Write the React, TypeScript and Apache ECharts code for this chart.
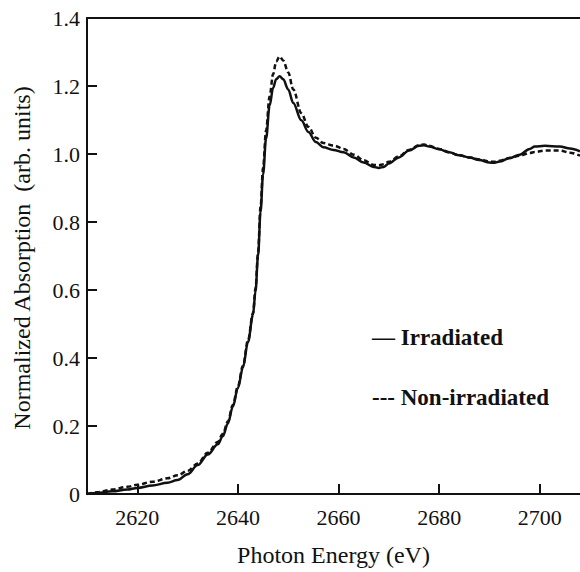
import React, { useEffect, useRef } from "react";
import * as echarts from "echarts";

const energy = [
  2610, 2612, 2615, 2618, 2620, 2623, 2626, 2628, 2630, 2632, 2634, 2636, 2637, 2638, 2639, 2640,
  2641, 2642, 2643, 2643.5, 2644, 2644.5, 2645, 2645.6, 2646.3, 2647, 2647.6, 2648.3, 2649, 2650,
  2651, 2652.6, 2654, 2655.5, 2657, 2659, 2661, 2663, 2665, 2667, 2668, 2669, 2670, 2672, 2674,
  2676, 2677, 2678, 2680, 2682, 2684, 2686, 2688, 2690, 2691, 2692, 2694, 2696, 2698, 2699, 2701,
  2704, 2706, 2708,
];

const irradiated = [
  0.0, 0.003, 0.008, 0.013, 0.018, 0.025, 0.033, 0.041, 0.058, 0.085, 0.116, 0.146, 0.17, 0.207,
  0.257, 0.312, 0.372, 0.447, 0.527, 0.597, 0.7, 0.83, 0.94, 1.046, 1.142, 1.195, 1.22, 1.229,
  1.22, 1.19, 1.15, 1.099, 1.065, 1.035, 1.02, 1.012, 1.005, 0.99, 0.975, 0.962, 0.959, 0.962,
  0.972, 0.99, 1.01, 1.024, 1.026, 1.022, 1.014, 1.005, 0.996, 0.99, 0.982, 0.975, 0.974, 0.978,
  0.988, 0.998, 1.015, 1.022, 1.024, 1.022, 1.016, 1.008,
];

const nonIrradiated = [
  0.0, 0.005, 0.013, 0.021, 0.027, 0.036, 0.046, 0.055, 0.068, 0.09, 0.121, 0.153, 0.177, 0.213,
  0.262, 0.317, 0.377, 0.452, 0.532, 0.605, 0.71, 0.845, 0.96, 1.07, 1.17, 1.235, 1.272, 1.287,
  1.275, 1.24, 1.19, 1.12, 1.08, 1.048, 1.032, 1.025, 1.015, 0.998, 0.982, 0.968, 0.967, 0.97,
  0.977, 0.993, 1.012, 1.026, 1.028, 1.024, 1.015, 1.005, 0.996, 0.99, 0.984, 0.978, 0.977, 0.98,
  0.988, 0.995, 1.003, 1.006, 1.01, 1.01, 1.004, 0.995,
];

const xTicks = [2620, 2640, 2660, 2680, 2700];

const xTitle = "Photon Energy (eV)";
const yTitle = "Normalized Absorption  (arb. units)";
const legendSolid = "— Irradiated";
const legendDashed = "--- Non-irradiated";

const FONT = "'Liberation Serif', 'Times New Roman', serif";
const INK = "#111";

export default function App() {
  const ref = useRef<HTMLDivElement>(null);

  useEffect(() => {
    if (!ref.current) return;
    const chart = echarts.init(ref.current, undefined, { renderer: "svg" });
    const pair = (ys: number[]) => energy.map((e, i) => [e, ys[i]]);
    chart.setOption({
      animation: false,
      backgroundColor: "#fff",
      grid: { left: 87, right: 0, top: 18, bottom: 71 },
      xAxis: [
        {
          type: "value",
          min: 2610,
          max: 2708,
          position: "bottom",
          axisLine: { show: true, onZero: false, lineStyle: { color: INK, width: 2 } },
          axisTick: {
            show: true,
            inside: true,
            length: 10,
            customValues: xTicks,
            lineStyle: { color: INK, width: 2 },
          },
          axisLabel: {
            customValues: xTicks,
            color: INK,
            fontFamily: FONT,
            fontSize: 22,
            margin: 12,
            formatter: (v: number) => String(v),
          },
          splitLine: { show: false },
          name: xTitle,
          nameLocation: "middle",
          nameGap: 49,
          nameTextStyle: { color: INK, fontFamily: FONT, fontSize: 24 },
        },
        {
          type: "value",
          min: 2610,
          max: 2708,
          position: "top",
          axisLine: { show: true, onZero: false, lineStyle: { color: INK, width: 2 } },
          axisTick: { show: false },
          axisLabel: { show: false },
          splitLine: { show: false },
        },
      ],
      yAxis: {
        type: "value",
        min: 0,
        max: 1.4,
        interval: 0.2,
        axisLine: { show: true, onZero: false, lineStyle: { color: INK, width: 2 } },
        axisTick: { show: true, inside: true, length: 10, lineStyle: { color: INK, width: 2 } },
        axisLabel: {
          color: INK,
          fontFamily: FONT,
          fontSize: 22,
          margin: 7,
          formatter: (v: number) => (Math.abs(v) < 1e-9 ? "0" : v.toFixed(1)),
        },
        splitLine: { show: false },
      },
      graphic: [
        {
          type: "text",
          x: 22,
          y: 258,
          rotation: Math.PI / 2,
          style: {
            text: yTitle,
            fill: INK,
            font: `24px ${FONT}`,
            align: "center",
            verticalAlign: "middle",
          },
        },
        {
          type: "text",
          x: 372,
          y: 337,
          style: {
            text: legendSolid,
            fill: INK,
            font: `bold 23px ${FONT}`,
            align: "left",
            verticalAlign: "middle",
          },
        },
        {
          type: "text",
          x: 372,
          y: 397,
          style: {
            text: legendDashed,
            fill: INK,
            font: `bold 23px ${FONT}`,
            align: "left",
            verticalAlign: "middle",
          },
        },
      ],
      series: [
        {
          name: "Irradiated",
          type: "line",
          data: pair(irradiated),
          showSymbol: false,
          smooth: 0.35,
          smoothMonotone: "x",
          lineStyle: { color: INK, width: 2.5, type: "solid" },
        },
        {
          name: "Non-irradiated",
          type: "line",
          data: pair(nonIrradiated),
          showSymbol: false,
          smooth: 0.35,
          smoothMonotone: "x",
          lineStyle: { color: INK, width: 2.5, type: [5, 3] },
        },
      ],
    });
    return () => chart.dispose();
  }, []);

  return (
    <div
      ref={ref}
      style={{ position: "fixed", left: 0, top: 0, width: 580, height: 572, background: "#fff" }}
    />
  );
}
